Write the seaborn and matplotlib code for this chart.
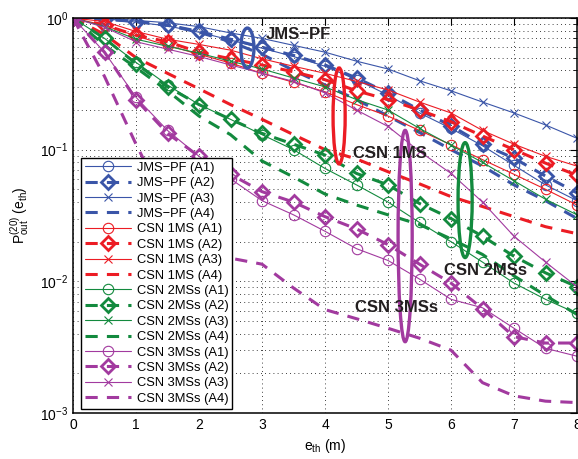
import numpy as np
import pandas as pd
import matplotlib
matplotlib.use("Agg")
import matplotlib.pyplot as plt
import seaborn as sns
from matplotlib.patches import Ellipse
from matplotlib.ticker import LogLocator, NullFormatter, FixedLocator

e_th = [0, 0.5, 1, 1.5, 2, 2.5, 3, 3.5, 4, 4.5, 5, 5.5, 6, 6.5, 7, 7.5, 8]

jms_a1 = [1, 0.99, 0.93, 0.87, 0.78, 0.68, 0.59, 0.51, 0.43, 0.34, 0.26, 0.19, 0.145, 0.107, 0.076, 0.054, 0.041]
jms_a2 = [1, 0.99, 0.94, 0.885, 0.79, 0.69, 0.60, 0.52, 0.44, 0.35, 0.27, 0.20, 0.152, 0.11, 0.086, 0.063, 0.047]
jms_a3 = [1, 0.99, 0.96, 0.92, 0.86, 0.77, 0.70, 0.62, 0.55, 0.47, 0.41, 0.334, 0.28, 0.23, 0.19, 0.154, 0.122]
jms_a4 = [1, 0.98, 0.94, 0.88, 0.78, 0.66, 0.53, 0.40, 0.31, 0.24, 0.18, 0.135, 0.10, 0.075, 0.054, 0.041, 0.030]

csn1_a1 = [1, 0.88, 0.73, 0.62, 0.53, 0.455, 0.38, 0.325, 0.275, 0.22, 0.18, 0.14, 0.109, 0.084, 0.065, 0.05, 0.038]
csn1_a2 = [1, 0.885, 0.74, 0.66, 0.55, 0.49, 0.44, 0.39, 0.34, 0.28, 0.24, 0.20, 0.163, 0.127, 0.10, 0.079, 0.064]
csn1_a3 = [1, 0.94, 0.79, 0.69, 0.63, 0.57, 0.49, 0.43, 0.38, 0.33, 0.284, 0.23, 0.19, 0.14, 0.11, 0.089, 0.075]
csn1_a4 = [1, 0.75, 0.50, 0.38, 0.29, 0.22, 0.17, 0.13, 0.10, 0.085, 0.068, 0.055, 0.044, 0.037, 0.031, 0.026, 0.023]

csn2_a1 = [1, 0.70, 0.46, 0.31, 0.22, 0.17, 0.13, 0.10, 0.072, 0.054, 0.040, 0.028, 0.020, 0.014, 0.0097, 0.0073, 0.0057]
csn2_a2 = [1, 0.70, 0.45, 0.30, 0.22, 0.17, 0.133, 0.11, 0.091, 0.066, 0.054, 0.039, 0.030, 0.022, 0.0155, 0.0116, 0.0091]
csn2_a3 = [1, 0.86, 0.69, 0.61, 0.54, 0.47, 0.41, 0.35, 0.30, 0.24, 0.20, 0.145, 0.108, 0.08, 0.058, 0.042, 0.032]
csn2_a4 = [1, 0.62, 0.42, 0.28, 0.18, 0.13, 0.082, 0.062, 0.046, 0.038, 0.032, 0.027, 0.021, 0.016, 0.011, 0.0078, 0.0056]

csn3_a1 = [1, 0.55, 0.25, 0.14, 0.089, 0.060, 0.041, 0.032, 0.024, 0.0177, 0.0144, 0.0104, 0.0073, 0.0063, 0.0044, 0.0031, 0.0027]
csn3_a2 = [1, 0.55, 0.24, 0.133, 0.089, 0.065, 0.048, 0.040, 0.031, 0.025, 0.019, 0.0135, 0.0097, 0.0062, 0.0038, 0.0034, 0.0034]
csn3_a3 = [1, 0.85, 0.66, 0.58, 0.51, 0.44, 0.38, 0.33, 0.27, 0.20, 0.15, 0.097, 0.066, 0.040, 0.022, 0.014, 0.0091]
csn3_a4 = [1, 0.36, 0.11, 0.037, 0.019, 0.015, 0.0135, 0.0089, 0.0061, 0.0052, 0.0044, 0.0037, 0.0030, 0.0017, 0.00135, 0.00123, 0.0012]

groups = ["JMS\u2212PF", "CSN 1MS", "CSN 2MSs", "CSN 3MSs"]
group_colors = ["#3a55a8", "#ec1c24", "#138a3e", "#a23a9f"]
group_data = [
    [jms_a1, jms_a2, jms_a3, jms_a4],
    [csn1_a1, csn1_a2, csn1_a3, csn1_a4],
    [csn2_a1, csn2_a2, csn2_a3, csn2_a4],
    [csn3_a1, csn3_a2, csn3_a3, csn3_a4],
]
variants = ["A1", "A2", "A3", "A4"]
annot_text = ["JMS\u2212PF", "CSN 1MS", "CSN 2MSs", "CSN 3MSs"]

sns.set_theme(style="white")
plt.rcParams.update({
    "font.family": ["Liberation Sans", "DejaVu Sans"],
    "mathtext.default": "regular",
    "axes.edgecolor": "black",
    "axes.linewidth": 1.1,
    "xtick.color": "black",
    "ytick.color": "black",
    "text.color": "black",
    "axes.labelcolor": "black",
})

fig = plt.figure(figsize=(5.78, 4.59), dpi=100)
ax = fig.add_axes([73 / 578, 1 - 413 / 459, 504 / 578, 395 / 459])

dash = (0, (4, 3))
for g, color, series in zip(groups, group_colors, group_data):
    for v, vals in zip(variants, series):
        label = f"{g} ({v})"
        if v == "A1":
            kw = dict(linewidth=0.8, linestyle="-", marker="o", markersize=7.5,
                      markerfacecolor="none", markeredgecolor=color, markeredgewidth=0.8)
        elif v == "A2":
            kw = dict(linewidth=2.2, linestyle=dash, marker="D", markersize=7,
                      markerfacecolor="none", markeredgecolor=color, markeredgewidth=2.0)
        elif v == "A3":
            kw = dict(linewidth=0.8, linestyle="-", marker="x", markersize=5.5,
                      markerfacecolor="none", markeredgecolor=color, markeredgewidth=0.8)
        else:
            kw = dict(linewidth=2.2, linestyle=dash, marker=None)
        df = pd.DataFrame({"e": e_th, "p": vals})
        sns.lineplot(data=df, x="e", y="p", ax=ax, color=color, label=label,
                     errorbar=None, sort=False, legend=False, **kw)

ax.set_yscale("log")
ax.set_xlim(0, 8)
ax.set_ylim(1e-3, 1)
ax.xaxis.set_major_locator(FixedLocator(range(9)))
ax.yaxis.set_major_locator(LogLocator(base=10, numticks=10))
ax.yaxis.set_minor_locator(LogLocator(base=10, subs=np.arange(2, 10), numticks=20))
ax.yaxis.set_minor_formatter(NullFormatter())

ax.grid(True, which="major", axis="both", color="black", linestyle=(0, (1, 4)), linewidth=0.6)
ax.grid(True, which="minor", axis="y", color="black", linestyle=(0, (1, 4)), linewidth=0.6)
ax.tick_params(which="both", direction="in", top=True, right=True, labelsize=10)
ax.tick_params(which="major", length=5, width=0.8)
ax.tick_params(which="minor", length=3, width=0.6)
for s in ax.spines.values():
    s.set_visible(True)
    s.set_linewidth(1.1)

ax.set_xlabel("$e_{th}$ (m)", fontsize=10, labelpad=4)
ax.set_ylabel("$P^{(20)}_{out}$ ($e_{th}$)", fontsize=10, labelpad=6)

# Ellipses and group annotations
ell = [
    (0.346, 0.924, 0.026, 0.101),
    (0.528, 0.752, 0.024, 0.243),
    (0.778, 0.539, 0.028, 0.291),
    (0.659, 0.448, 0.028, 0.535),
]
txt_pos = [(0.448, 0.957), (0.629, 0.658), (0.819, 0.362), (0.641, 0.268)]
for (cx, cy, w, h), color, (tx, ty), t in zip(ell, group_colors, txt_pos, annot_text):
    ax.add_patch(Ellipse((cx, cy), w, h, transform=ax.transAxes, fill=False,
                         edgecolor=color, linewidth=2.4, zorder=5))
    ax.text(tx, ty, t, transform=ax.transAxes, ha="center", va="center",
            fontsize=12, fontweight="bold", color="#231f20", zorder=6)

handles, labels = ax.get_legend_handles_labels()
leg = ax.legend(handles, labels, loc="upper left", bbox_to_anchor=(0.016, 0.646),
                fontsize=9.3, frameon=True, fancybox=False, framealpha=1,
                edgecolor="black", handlelength=3.6, handletextpad=0.4,
                labelspacing=0.26, borderpad=0.3, borderaxespad=0)
leg.get_frame().set_linewidth(1.0)
leg.set_zorder(10)

fig.savefig("out.png", dpi=100)
